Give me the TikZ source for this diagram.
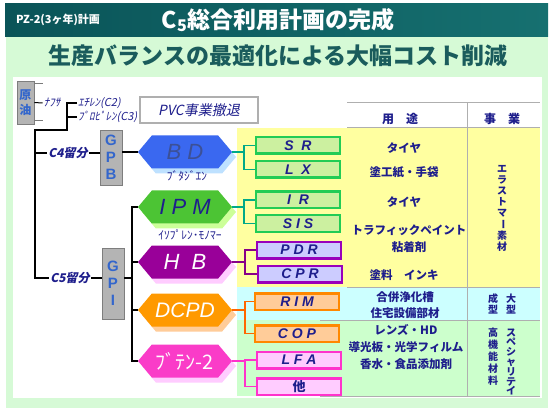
\documentclass[tikz,border=0pt]{standalone}
\usepackage{fontspec}
\setmainfont{Liberation Sans}
\newfontfamily\jp{Noto Sans CJK JP}
\newfontfamily\jpit{Noto Sans CJK JP}[FakeSlant=0.2]
\usetikzlibrary{positioning, shapes.symbols, shadows}
\definecolor{barteal}{RGB}{22,112,112}
\definecolor{bardark}{RGB}{10,84,88}
\definecolor{framegreen}{RGB}{214,250,214}
\definecolor{subteal}{RGB}{26,92,92}
\definecolor{navytext}{RGB}{30,30,140}
\definecolor{gpblue}{RGB}{51,102,204}
\definecolor{boxgray}{RGB}{180,180,180}
\definecolor{linegray}{RGB}{175,175,175}
\definecolor{bdblue}{RGB}{58,104,240}
\definecolor{bdshade}{RGB}{190,225,255}
\definecolor{bdtext}{RGB}{60,80,150}
\definecolor{ipmgreen}{RGB}{76,196,52}
\definecolor{ipmshade}{RGB}{204,255,153}
\definecolor{hbpurple}{RGB}{153,0,153}
\definecolor{hbshade}{RGB}{255,204,255}
\definecolor{dcorange}{RGB}{255,153,0}
\definecolor{dcshade}{RGB}{255,204,153}
\definecolor{btpink}{RGB}{250,60,200}
\definecolor{btshade}{RGB}{255,204,255}
\definecolor{elgreen}{RGB}{34,204,85}
\definecolor{elfill}{RGB}{204,240,160}
\definecolor{elline}{RGB}{0,170,136}
\definecolor{pdpurple}{RGB}{153,0,187}
\definecolor{pdfill}{RGB}{204,204,255}
\definecolor{pdline}{RGB}{136,0,136}
\definecolor{rmorange}{RGB}{255,136,0}
\definecolor{rmfill}{RGB}{255,204,153}
\definecolor{rmline}{RGB}{255,102,0}
\definecolor{lfpink}{RGB}{255,51,204}
\definecolor{lffill}{RGB}{255,204,255}
\definecolor{tabyellow}{RGB}{255,255,160}
\definecolor{tabcyan}{RGB}{204,255,255}
\definecolor{tabgreen}{RGB}{204,255,204}
\tikzset{
    treeline/.style={line width=1.6pt, black},
    bracketline/.style={line width=1.6pt},
    graybox/.style={rectangle, draw=boxgray!70!black, fill=boxgray, line width=0.6pt, inner sep=0pt, align=center, text=gpblue, font=\bfseries\fontsize{15}{17}\selectfont},
    hexnode/.style={signal, signal to=east and west, signal pointer angle=100, minimum width=94pt, minimum height=33pt, inner sep=0pt, font=\itshape\fontsize{22}{22}\selectfont},
    itembox/.style={rectangle, line width=2.5pt, minimum width=84pt, minimum height=16.5pt, inner sep=0pt, text=navytext, font=\bfseries\itshape\fontsize{14}{14}\selectfont},
    smalllabel/.style={inner sep=1pt, text=navytext, font=\jpit\fontsize{11}{11}\selectfont},
    usetext/.style={inner sep=0pt, text=navytext, align=center, font=\jp\bfseries\fontsize{11.5}{17}\selectfont},
    vertext/.style={inner sep=0pt, text=navytext, align=center, font=\jp\bfseries\fontsize{10}{10.5}\selectfont}
}
\newcommand{\vbar}{\rotatebox[origin=c]{-90}{ー}}

\begin{document}
\begin{tikzpicture}[x=1pt, y=-1pt]
\useasboundingbox (0,0) rectangle (552,409);
% frame and title bar
\fill[framegreen] (6,37) rectangle (548,408);
\fill[white] (13,77) rectangle (542,398);
\shade[left color=bardark, right color=barteal] (5,4) rectangle (548,37);
\node[text=white, font=\jp\bfseries\fontsize{11}{11}\selectfont] (plan) at (58,20) {PZ-2(3ヶ年)計画};
\node[text=white, font=\jp\bfseries\fontsize{23}{23}\selectfont] (title) at (278,20) {C\textsubscript{5}総合利用計画の完成};
\node[text=subteal, font=\jp\bfseries\fontsize{23}{23}\selectfont] (subtitle) at (278,56) {生産バランスの最適化による大幅コスト削減};

% table
\fill[tabyellow] (237,128) rectangle (540,287);
\fill[tabcyan] (237,287) rectangle (540,320);
\fill[tabgreen] (237,320) rectangle (540,396);
\draw[linegray, line width=1pt] (347,103) -- (540,103) (347,128) -- (540,128)
    (467,103) -- (467,396) (347,287) -- (540,287) (320,320) -- (540,320) (320,396) -- (540,396);
\node[usetext, font=\jp\bfseries\fontsize{12}{12}\selectfont] (youto) at (400,119) {用　途};
\node[usetext, font=\jp\bfseries\fontsize{12}{12}\selectfont] (jigyou) at (502,119) {事　業};
\node[usetext] (use1) at (404,148) {タイヤ};
\node[usetext] (use2) at (404,172) {塗工紙・手袋};
\node[usetext] (use3) at (404,202) {タイヤ};
\node[usetext] (use4) at (409,239) {トラフィックペイント\\粘着剤};
\node[usetext] (use5) at (404,275) {塗料　インキ};
\node[usetext, font=\jp\bfseries\fontsize{11.5}{16}\selectfont] (use6) at (405,305) {合併浄化槽\\住宅設備部材};
\node[usetext] (use7) at (406,347) {レンズ・HD\\導光板・光学フィルム\\香水・食品添加剤};
\node[vertext, font=\jp\bfseries\fontsize{10}{11}\selectfont] (elast) at (502,208) {エ\\ラ\\ス\\ト\\マ\\\vbar\\素\\材};
\node[vertext] (large1) at (511,304) {大\\型};
\node[vertext] (large2) at (493,304) {成\\型};
\node[vertext, font=\jp\bfseries\fontsize{10}{9.8}\selectfont] (spec1) at (511,362) {ス\\ペ\\シ\\ャ\\リ\\テ\\イ};
\node[vertext, font=\jp\bfseries\fontsize{10}{12}\selectfont] (spec2) at (493,357) {高\\機\\能\\材\\料};

% crude oil and feed
\node[graybox, minimum width=17pt, minimum height=43pt, font=\jp\bfseries\fontsize{12}{15}\selectfont] (genyu) at (25.5,102.5) {原\\油};
\draw[linegray!70!black, line width=1pt] ([yshift=19pt]genyu.east) -- ++(9,0);
\draw[linegray!70!black, line width=1pt] ([yshift=-18pt]genyu.east) -- ++(9,0);
\node[smalllabel] (naphtha) at (52,103) {ﾅﾌｻ};
\draw[treeline, line width=1pt] (genyu.east) -- (naphtha.west);
\node[smalllabel, anchor=west] (ethylene) at (77,103) {ｴﾁﾚﾝ(C2)};
\node[smalllabel, anchor=west] (propylene) at (77,117) {ﾌﾟﾛﾋﾟﾚﾝ(C3)};
\node[draw=linegray, line width=1.5pt, fill=white, minimum width=118pt, minimum height=26pt, text=navytext, font=\jpit\fontsize{14}{14}\selectfont] (pvc) at (199,110) {PVC事業撤退};

\coordinate (fork) at (67,130);
\coordinate (trunk) at (35,130);
\node[smalllabel, font=\jpit\bfseries\fontsize{12}{12}\selectfont] (c4) at (68,153) {C4留分};
\node[smalllabel, font=\jpit\bfseries\fontsize{12}{12}\selectfont] (c5) at (70,278) {C5留分};
\draw[treeline] (ethylene.west) -| (fork) -- (trunk) |- (c5.west);
\draw[treeline] (propylene.west) -- (propylene.west -| fork);
\draw[treeline] (trunk |- c4.west) -- (c4.west);

% GPB and GPI
\node[graybox, minimum width=22pt, minimum height=55pt] (gpb) at (111,157.5) {G\\P\\B};
\node[graybox, minimum width=22pt, minimum height=71pt] (gpi) at (113,283.5) {G\\P\\I};
\draw[treeline] (c4.east) -- (c4.east -| gpb.west);
\draw[treeline] (c5.east) -- (c5.east -| gpi.west);

% monomers
\node[hexnode, fill=bdblue, text=bdtext, drop shadow={shadow xshift=4pt, shadow yshift=-5pt, fill=bdshade, opacity=1}] (bd) at (185,152) {B\ D};
\node[hexnode, fill=ipmgreen, text=navytext, drop shadow={shadow xshift=4pt, shadow yshift=-5pt, fill=ipmshade, opacity=1}] (ipm) at (185,207) {I\ P\ M};
\node[hexnode, fill=hbpurple, text=white, drop shadow={shadow xshift=4pt, shadow yshift=-5pt, fill=hbshade, opacity=1}] (hb) at (185,262) {H\ \ B};
\node[hexnode, fill=dcorange, text=white, font=\itshape\fontsize{21}{21}\selectfont, drop shadow={shadow xshift=4pt, shadow yshift=-5pt, fill=dcshade, opacity=1}] (dcpd) at (185,310) {DCPD};
\node[hexnode, fill=btpink, text=white, font=\jp\fontsize{20}{20}\selectfont, drop shadow={shadow xshift=4pt, shadow yshift=-5pt, fill=btshade, opacity=1}] (butene) at (185,361) {ﾌﾞﾃﾝ-2};
\node[smalllabel, font=\jp\fontsize{11.5}{11.5}\selectfont] (bdname) at (187,176) {ﾌﾞﾀｼﾞｴﾝ};
\node[smalllabel, font=\jp\fontsize{11.5}{11.5}\selectfont] (ipmname) at (190,235) {ｲｿﾌﾟﾚﾝ･ﾓﾉﾏｰ};

\draw[treeline] (bd.west -| gpb.east) -- (bd.west);
\coordinate (gtrunk) at (132,278);
\draw[treeline] (c5.east -| gpi.east) -- (gtrunk);
\draw[treeline] (ipm.west) -| (gtrunk) |- (butene.west);
\draw[treeline] (hb.west -| gtrunk) -- (hb.west);
\draw[treeline] (dcpd.west -| gtrunk) -- (dcpd.west);

% products
\node[itembox, draw=elgreen, fill=elfill] (sr) at (298,145.5) {S\ \ R};
\node[itembox, draw=elgreen, fill=elfill] (lx) at (298,169.5) {L\ \ X};
\node[itembox, draw=elgreen, fill=elfill] (ir) at (298,200) {I\ \ R};
\node[itembox, draw=elgreen, fill=elfill] (sis) at (298,223.5) {S I S};
\node[itembox, draw=pdpurple, fill=pdfill] (pdr) at (299,250) {P D R};
\node[itembox, draw=pdpurple, fill=pdfill] (cpr) at (300,274) {C P R};
\node[itembox, draw=rmorange, fill=rmfill] (rim) at (297,301.5) {R I M};
\node[itembox, draw=rmorange, fill=rmfill] (cop) at (297,333.5) {C O P};
\node[itembox, draw=lfpink, fill=lffill] (lfa) at (299,360) {L F A};
\node[itembox, draw=lfpink, fill=lffill, font=\jp\bfseries\fontsize{13}{13}\selectfont] (other) at (299,386.5) {他};

\draw[bracketline, elline] (bd.east) -- ++(12,0) coordinate (bdfork);
\draw[bracketline, elline] (sr.west) -| (bdfork) |- (lx.west);
\draw[bracketline, elline] (ipm.east) -- ++(12,0) coordinate (ipmfork);
\draw[bracketline, elline] (ir.west) -| (ipmfork) |- (sis.west);
\draw[bracketline, pdline] (hb.east) -- ++(13,0) coordinate (hbfork);
\draw[bracketline, pdline] (pdr.west) -| (hbfork) |- (cpr.west);
\draw[bracketline, rmline] (dcpd.east) -- ++(13,0) coordinate (dcfork);
\draw[bracketline, rmline] (rim.west) -| (dcfork) |- (cop.west);
\draw[bracketline, lfpink] (butene.east) -- ++(13,0) coordinate (btfork);
\draw[bracketline, lfpink] (lfa.west) -| (btfork) |- (other.west);
\end{tikzpicture}
\end{document}
